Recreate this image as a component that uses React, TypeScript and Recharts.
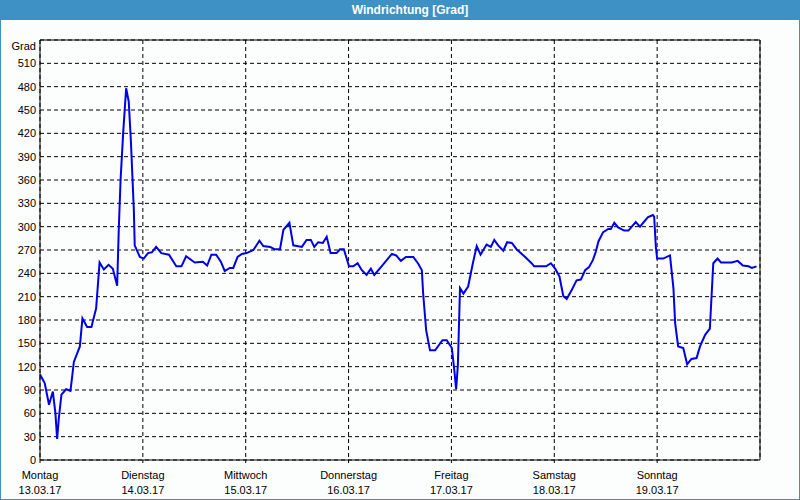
import { LineChart, Line, XAxis, YAxis, CartesianGrid, ReferenceLine } from "recharts";

// hours since Monday 00:00
const hours = [
  0, 1.1, 2.1, 3.0, 3.6, 4.0, 4.4, 5.0, 6.1, 7.1, 7.5, 7.9, 9.3, 9.9, 11.0, 12.0, 13.1, 13.9, 14.9, 16.0,
  17.0, 18.0, 18.4, 18.8, 19.4, 20.1, 20.7, 21.2, 21.9, 22.1, 23.3, 24.2, 25.2, 26.1, 27.1, 28.3, 30.1, 31.8, 33.0, 34.1,
  36.1, 38.0, 39.0, 40.0, 41.1, 42.2, 43.1, 44.3, 45.1, 46.1, 47.1, 48.2, 49.8, 51.2, 52.1, 53.7, 54.7, 56.0, 56.8, 58.2,
  59.1, 61.1, 62.2, 63.2, 64.0, 64.9, 66.0, 66.9, 67.8, 69.2, 70.0, 70.9, 72.1, 73.1, 74.1, 75.1, 76.2, 77.2, 78.0, 79.7,
  82.1, 83.1, 84.2, 85.4, 87.1, 88.3, 89.1, 89.4, 90.1, 91.0, 92.2, 93.9, 94.9, 96.1, 96.7, 97.1, 97.5, 98.0, 98.8, 99.9,
  101.0, 101.9, 102.8, 104.2, 105.2, 106.0, 106.9, 108.1, 109.0, 110.1, 111.2, 113.2, 114.7, 115.3, 116.7, 118.1, 119.2, 120.2, 121.2, 122.1,
  122.9, 124.1, 125.2, 126.2, 127.2, 128.1, 129.0, 129.7, 130.3, 131.4, 132.6, 133.2, 134.0, 134.9, 136.3, 137.3, 139.0, 140.0, 141.8, 143.0,
  143.3, 143.7, 144.0, 145.4, 147.0, 147.4, 147.8, 148.2, 148.9, 150.1, 151.0, 152.0, 153.2, 154.0, 155.2, 156.3, 157.1, 158.1, 158.9, 161.4,
  162.8, 164.0, 165.3, 166.1, 167.2,
];

const degrees = [
  110, 99, 71, 88, 60, 27, 54, 84, 91, 89, 107, 126, 146, 182, 171, 171, 195, 254, 245, 251,
  246, 224, 300, 360, 420, 478, 461, 411, 321, 276, 261, 259, 266, 267, 274, 266, 264, 249, 249, 262,
  254, 255, 250, 264, 264, 255, 243, 247, 247, 261, 265, 266, 270, 282, 275, 274, 271, 271, 296, 305,
  276, 274, 283, 283, 274, 280, 279, 287, 266, 266, 271, 271, 249, 249, 253, 244, 238, 246, 238, 249,
  265, 263, 256, 261, 261, 252, 244, 214, 167, 141, 141, 154, 154, 144, 114, 91, 122, 221, 214, 223,
  253, 275, 264, 277, 274, 283, 276, 269, 280, 279, 271, 261, 253, 249, 249, 249, 253, 246, 236, 211,
  207, 219, 231, 232, 244, 248, 257, 268, 281, 293, 297, 297, 305, 299, 295, 295, 306, 300, 312, 315,
  313, 274, 259, 259, 263, 242, 221, 176, 146, 144, 123, 130, 131, 146, 161, 169, 253, 259, 254, 254,
  256, 250, 249, 247, 249,
];

const dayTicks = [0, 24, 48, 72, 96, 120, 144];
const dayNames = ["Montag", "Dienstag", "Mittwoch", "Donnerstag", "Freitag", "Samstag", "Sonntag"];
const dayDates = ["13.03.17", "14.03.17", "15.03.17", "16.03.17", "17.03.17", "18.03.17", "19.03.17"];

const gradTicks = [0, 30, 60, 90, 120, 150, 180, 210, 240, 270, 300, 330, 360, 390, 420, 450, 480, 510, 540];
const compassTicks = [0, 45, 90, 135, 180, 225, 270, 315, 360, 405, 450, 495, 540];
const compassLabels = ["N", "NE", "E", "SE", "S", "SW", "W", "NW", "N", "NE", "E", "SE", "S"];

const data = hours.map((h, i) => ({ h, deg: degrees[i] }));

const font = "'Liberation Sans', Arial, sans-serif";

const GradTick = ({ x, y, payload }: any) => (
  <text
    x={x}
    y={payload.value === 540 ? y + 6 : y}
    textAnchor="end"
    dominantBaseline="central"
    fontSize={11}
    fontFamily={font}
    fill="#000"
  >
    {payload.value === 540 ? "Grad" : payload.value}
  </text>
);

const CompassTick = ({ x, y, payload }: any) => (
  <text x={x} y={y} textAnchor="start" dominantBaseline="central" fontSize={11} fontFamily={font} fill="#000">
    {compassLabels[compassTicks.indexOf(payload.value)]}
  </text>
);

const DayTick = ({ x, y, payload }: any) => {
  const i = dayTicks.indexOf(payload.value);
  return (
    <text x={x} y={y} textAnchor="middle" fontSize={11} fontFamily={font} fill="#000">
      <tspan x={x} dy={14}>{dayNames[i]}</tspan>
      <tspan x={x} dy={15}>{dayDates[i]}</tspan>
    </text>
  );
};

const App = () => {
  return (
    <div style={{ position: "absolute", left: 0, top: 0, width: 800, height: 500, background: "#fcfdfd" }}>
      <LineChart width={800} height={500} data={data} margin={{ top: 40, right: 0, bottom: 0, left: 0 }}>
        <CartesianGrid stroke="#000" strokeDasharray="4 3" horizontal vertical />
        <XAxis
          dataKey="h"
          type="number"
          domain={[0, 168]}
          ticks={dayTicks}
          height={40}
          stroke="#000"
          tickSize={3}
          tickMargin={2}
          tick={<DayTick />}
        />
        <YAxis
          domain={[0, 540]}
          ticks={gradTicks}
          width={40}
          stroke="#000"
          tickLine={false}
          tickSize={0}
          tickMargin={4}
          interval={0}
          tick={<GradTick />}
        />
        <YAxis
          yAxisId="right"
          orientation="right"
          domain={[0, 540]}
          ticks={compassTicks}
          width={40}
          stroke="#000"
          tickSize={3}
          tickMargin={1}
          interval={0}
          tick={<CompassTick />}
        />
        <ReferenceLine y={540} stroke="#000" strokeWidth={1} />
        <Line
          dataKey="deg"
          type="linear"
          stroke="#0000e6"
          strokeWidth={2}
          dot={false}
          isAnimationActive={false}
        />
      </LineChart>
      <div
        style={{
          position: "absolute",
          left: 0,
          top: 0,
          width: 800,
          height: 20,
          background: "#3d91c5",
          color: "#fff",
          fontFamily: font,
          fontWeight: "bold",
          fontSize: 12,
          lineHeight: "20px",
          textAlign: "center",
          paddingLeft: 20,
          boxSizing: "border-box",
        }}
      >
        Windrichtung [Grad]
      </div>
      <div
        style={{
          position: "absolute",
          left: 0,
          top: 0,
          width: 800,
          height: 500,
          border: "1px solid #3d91c5",
          boxSizing: "border-box",
          pointerEvents: "none",
        }}
      />
    </div>
  );
};

export default App;
